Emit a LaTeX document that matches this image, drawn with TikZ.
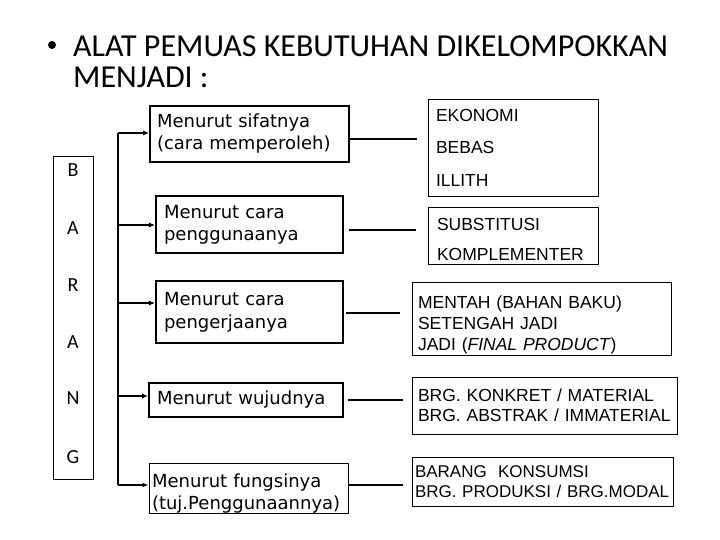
\documentclass[tikz,border=0pt]{standalone}
\usepackage{fontspec}
\setmainfont{Liberation Sans}
\newfontfamily\carl{Carlito}
\newfontfamily\comic{DejaVu Sans}
\usetikzlibrary{arrows.meta}
\begin{document}
\begin{tikzpicture}[x=1pt,y=-1pt,
  conn/.style={line width=2.5pt},
  arr/.style={line width=2.5pt,-{Latex[length=6pt,width=5pt]}},
  lbox/.style={draw,line width=1.8pt,align=left,inner ysep=0pt,font=\comic\fontsize{18}{22}\selectfont},
  rbox/.style={draw,line width=0.9pt,align=left,inner ysep=0pt,font=\fontsize{17.5}{20}\selectfont},
  letter/.style={font=\carl\fontsize{20}{22}\selectfont,inner sep=0pt}]
\useasboundingbox (0,0) rectangle (720,540);
\fill[white] (0,0) rectangle (720,540);
% title
\node[circle,fill=black,inner sep=0pt,minimum size=8pt] (bul) at (52,45) {};
\node[anchor=base west,inner sep=0pt,font=\carl\fontsize{32}{38}\selectfont] (t1) at (73,57) {ALAT PEMUAS KEBUTUHAN DIKELOMPOKKAN};
\node[anchor=base west,inner sep=0pt,font=\carl\fontsize{32}{38}\selectfont] (t2) at (73,88) {MENJADI :};
% BARANG
\node[draw,line width=0.8pt,minimum width=40pt,minimum height=323pt] (brg) at (73,317.5) {};
\node[letter] (B1) at (73,170) {B};
\node[letter] (A1) at (73,228) {A};
\node[letter] (R1) at (73,285) {R};
\node[letter] (A2) at (73,342) {A};
\node[letter] (N1) at (73,398) {N};
\node[letter] (G1) at (73,457) {G};
% left boxes
\node[lbox,inner xsep=7pt,text width=185pt,minimum height=56pt] (l1) at (249.5,134) {Menurut sifatnya\\(cara memperoleh)};
\node[lbox,inner xsep=8pt,text width=171pt,minimum height=57pt] (l2) at (249.5,224.5) {Menurut cara\\penggunaanya};
\node[lbox,inner xsep=8pt,text width=171pt,minimum height=62pt,font=\comic\fontsize{18}{23}\selectfont] (l3) at (249.5,312) {Menurut cara\\pengerjaanya};
\node[lbox,inner xsep=8pt,text width=178pt,minimum height=34pt] (l4) at (246,400) {Menurut wujudnya};
\node[lbox,line width=1pt,inner xsep=3pt,text width=193pt,minimum height=50pt] (l5) at (248.5,488) {\rule{0pt}{24pt}Menurut fungsinya\\(tuj.Penggunaannya)};
% right boxes
\node[rbox,inner xsep=8pt,text width=154pt,minimum height=97pt,font=\fontsize{17.5}{32.5}\selectfont] (r1) at (513,147.5) {EKONOMI\\BEBAS\\ILLITH};
\node[rbox,inner xsep=9pt,text width=152pt,minimum height=57pt,font=\fontsize{17.5}{30}\selectfont] (r2) at (513,235.5) {\rule{0pt}{21pt}SUBSTITUSI\\KOMPLEMENTER};
\node[rbox,inner xsep=6pt,text width=247pt,minimum height=73pt,font=\fontsize{17.5}{21}\selectfont] (r3) at (541.5,318.5) {\rule{0pt}{25pt}MENTAH (BAHAN BAKU)\\SETENGAH JADI\\JADI (\textit{FINAL PRODUCT})};
\node[rbox,inner xsep=6pt,text width=253pt,minimum height=57pt] (r4) at (544.5,405.5) {BRG. KONKRET / MATERIAL\\BRG. ABSTRAK / IMMATERIAL};
\node[rbox,inner xsep=0pt,text width=261pt,minimum height=49pt,font=\fontsize{17}{20}\selectfont] (r5) at (542.5,481.5) {\hspace*{3pt}BARANG\ \ KONSUMSI\\\hspace*{3pt}BRG. PRODUKSI / BRG.MODAL};
% bar and arrows
\coordinate (b1) at (118,133);
\coordinate (b2) at (118,225);
\coordinate (b3) at (118,303);
\coordinate (b4) at (118,396);
\coordinate (b5) at (118,485);
\draw[conn] (b1) -- (b5);
\draw[arr] (b1) -- (b1 -| l1.west);
\draw[arr] (b2) -- (b2 -| l2.west);
\draw[arr] (b3) -- (b3 -| l3.west);
\draw[arr] (b4) -- (b4 -| l4.west);
\draw[arr] (b5) -- (b5 -| l5.west);
% right connectors
\coordinate (y1) at (0,139);
\coordinate (y2) at (0,230);
\coordinate (y3) at (0,313);
\coordinate (y4) at (0,400);
\coordinate (y5) at (0,485);
\draw[conn,shorten >=11pt] (l1.east |- y1) -- (r1.west |- y1);
\draw[conn,shorten <=5pt,shorten >=12pt] (l2.east |- y2) -- (r2.west |- y2);
\draw[conn,shorten <=2pt,shorten >=12pt] (l3.east |- y3) -- (r3.west |- y3);
\draw[conn,shorten <=4pt,shorten >=9pt] (l4.east |- y4) -- (r4.west |- y4);
\draw[conn,shorten >=9pt] (l5.east |- y5) -- (r5.west |- y5);
\end{tikzpicture}
\end{document}
